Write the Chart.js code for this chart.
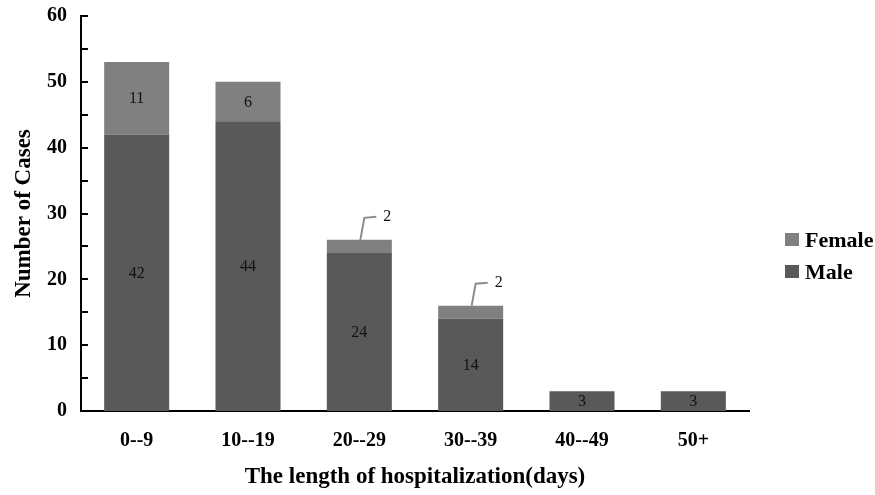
<!DOCTYPE html>
<html>
<head>
<meta charset="utf-8">
<script src="https://cdn.jsdelivr.net/npm/chart.js@4"></script>
<style>
  html, body { margin: 0; padding: 0; background: #ffffff; }
  #wrap { width: 875px; height: 495px; }
</style>
</head>
<body>
<div id="wrap"><canvas id="c" width="875" height="495"></canvas></div>
<script>
const categories = ['0--9', '10--19', '20--29', '30--39', '40--49', '50+'];
const maleCases = [42, 44, 24, 14, 3, 3];
const femaleCases = [11, 6, 2, 2, 0, 0];
const yTickLabels = [0, 10, 20, 30, 40, 50, 60];

const SERIF = '"Liberation Serif", "Times New Roman", serif';
const MALE_COLOR = '#595959';
const FEMALE_COLOR = '#808080';

const innerTicksPlugin = {
  id: 'innerTicks',
  afterDraw(chart) {
    const ctx = chart.ctx;
    const y = chart.scales.y;
    ctx.save();
    ctx.strokeStyle = '#000';
    ctx.lineWidth = 2;
    y.ticks.forEach(t => {
      if (t.value === 0) return;
      const py = Math.round(y.getPixelForValue(t.value));
      ctx.beginPath();
      ctx.moveTo(y.right, py);
      ctx.lineTo(y.right + 7, py);
      ctx.stroke();
    });
    ctx.restore();
  }
};

const barLabelsPlugin = {
  id: 'barLabels',
  afterDatasetsDraw(chart) {
    const ctx = chart.ctx;
    const zeroPx = chart.scales.y.getPixelForValue(0);
    ctx.save();
    ctx.font = '16px ' + SERIF;
    ctx.fillStyle = '#111';
    ctx.textAlign = 'center';
    ctx.textBaseline = 'middle';
    chart.data.datasets.forEach((ds, di) => {
      const meta = chart.getDatasetMeta(di);
      meta.data.forEach((el, i) => {
        const v = ds.data[i];
        if (!v) return;
        const top = el.y, base = el.base;
        const h = Math.abs(base - top);
        const stackedOnTop = base < zeroPx - 1;
        if (h >= 20 || !stackedOnTop) {
          ctx.fillText(String(v), el.x, (top + base) / 2 + 1);
        } else {
          ctx.strokeStyle = '#8c8c8c';
          ctx.lineWidth = 2;
          ctx.beginPath();
          ctx.moveTo(el.x + 1, top);
          ctx.lineTo(el.x + 5, top - 22);
          ctx.lineTo(el.x + 17, top - 23);
          ctx.stroke();
          ctx.fillText(String(v), el.x + 28, top - 23);
        }
      });
    });
    ctx.restore();
  }
};

const legendPlugin = {
  id: 'sideLegend',
  afterDraw(chart) {
    const ctx = chart.ctx;
    const items = chart.data.datasets.map(d => ({ label: d.label, color: d.backgroundColor })).reverse();
    ctx.save();
    ctx.font = 'bold 22px ' + SERIF;
    ctx.textAlign = 'left';
    ctx.textBaseline = 'middle';
    items.forEach((it, k) => {
      const cy = 240 + k * 32;
      ctx.fillStyle = it.color;
      ctx.fillRect(785, cy - 7, 14, 13);
      ctx.fillStyle = '#000';
      ctx.fillText(it.label, 805, cy + 1);
    });
    ctx.restore();
  }
};

new Chart(document.getElementById('c'), {
  type: 'bar',
  data: {
    labels: categories,
    datasets: [
      { label: 'Male', data: maleCases, backgroundColor: MALE_COLOR, borderWidth: 0,
        barPercentage: 0.584, categoryPercentage: 1.0 },
      { label: 'Female', data: femaleCases, backgroundColor: FEMALE_COLOR, borderWidth: 0,
        barPercentage: 0.584, categoryPercentage: 1.0 }
    ]
  },
  options: {
    responsive: false,
    animation: false,
    devicePixelRatio: 1,
    layout: { padding: { top: 16, right: 126, left: 0, bottom: 0 } },
    plugins: { legend: { display: false }, tooltip: { enabled: false } },
    scales: {
      x: {
        stacked: true,
        grid: { display: false, drawTicks: false },
        border: { display: true, color: '#000', width: 2 },
        ticks: { color: '#000', font: { family: SERIF, size: 20, weight: 'bold' }, padding: 18, maxRotation: 0 },
        title: { display: true, text: 'The length of hospitalization(days)', color: '#000',
                 font: { family: SERIF, size: 23, weight: 'bold' }, padding: { top: 8 } },
        afterFit(s) { s.height = 84; s.paddingLeft = 0; s.paddingRight = 0; }
      },
      y: {
        stacked: true,
        min: 0, max: 60,
        grid: { display: false, drawTicks: false },
        border: { display: true, color: '#000', width: 2 },
        ticks: {
          stepSize: 5, color: '#000', padding: 14,
          font: { family: SERIF, size: 20, weight: 'bold' },
          callback: v => yTickLabels.includes(v) ? String(v) : ''
        },
        title: { display: true, text: 'Number of Cases', color: '#000',
                 font: { family: SERIF, size: 23, weight: 'bold' }, padding: { top: 10, bottom: 4 } },
        afterFit(s) { s.width = 81; s.paddingTop = 0; s.paddingBottom = 0; }
      }
    }
  },
  plugins: [innerTicksPlugin, barLabelsPlugin, legendPlugin]
});
</script>
</body>
</html>
